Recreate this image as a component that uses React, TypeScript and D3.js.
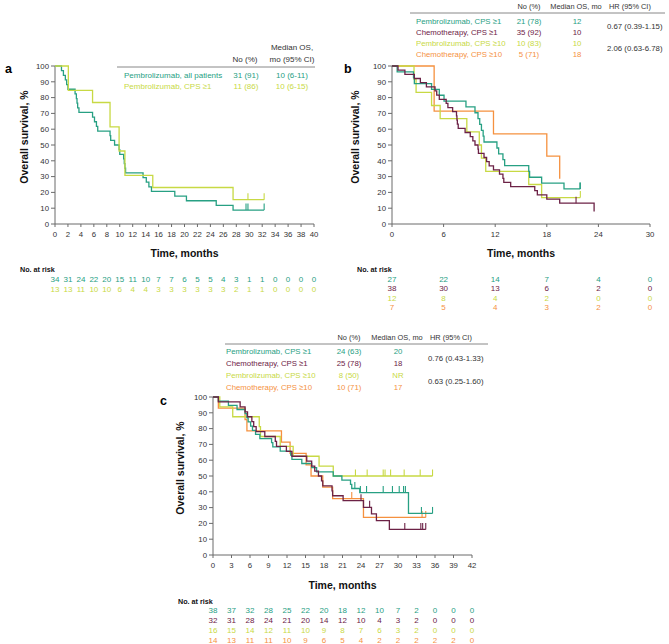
import React from 'react';
import * as d3 from 'd3';

type Pt = [number, number];

const FONT = '"Liberation Sans", Arial, Helvetica, sans-serif';
const TEAL = '#27a083';
const MAROON = '#6c2246';
const LIME = '#c8d944';
const ORANGE = '#f5913f';
const AXIS = '#6b6b6b';
const TXT = '#333333';

// ---------- Panel a ----------
const aXTicks = [0, 2, 4, 6, 8, 10, 12, 14, 16, 18, 20, 22, 24, 26, 28, 30, 32, 34, 36, 38, 40];
const aAllSteps: Pt[] = [[0, 100], [1.0, 97.1], [1.3, 94.1], [1.6, 91.2], [1.8, 88.2], [2.0, 85.3], [3.1, 82.4], [3.3, 79.4], [3.4, 76.5], [3.5, 73.5], [3.7, 70.6], [5.8, 67.6], [6.1, 64.7], [6.4, 61.8], [6.6, 58.8], [8.5, 55.9], [8.6, 52.9], [9.2, 50.0], [9.9, 47.1], [10.0, 44.1], [10.6, 41.2], [10.7, 38.2], [10.8, 35.3], [10.9, 32.4], [13.6, 29.4], [14.1, 26.5], [14.5, 23.5], [14.9, 20.6], [18.5, 17.6], [20.3, 14.7], [24.9, 11.8], [27.5, 8.8]];
const aAllEnd = 32.3;
const aAllCensor = [29.5, 29.8, 32.3];
const aCpsSteps: Pt[] = [[0, 100], [2.06, 84.6], [5.8, 76.9], [8.5, 61.5], [9.9, 46.2], [10.8, 30.8], [15.1, 23.1], [27.5, 15.4]];
const aCpsEnd = 32.3;
const aCpsCensor = [29.8, 32.3];
const aRiskAll = [34, 31, 24, 22, 20, 15, 11, 10, 7, 7, 6, 5, 5, 4, 3, 1, 1, 0, 0, 0, 0];
const aRiskCps = [13, 13, 11, 10, 10, 6, 4, 4, 3, 3, 3, 3, 3, 3, 2, 1, 1, 0, 0, 0, 0];
const aNames = ['Pembrolizumab, all patients', 'Pembrolizumab, CPS \u22651'];
const aNo = ['31 (91)', '11 (86)'];
const aMedian = ['10 (6-11)', '10 (6-15)'];

// ---------- Panel b ----------
const bXTicks = [0, 6, 12, 18, 24, 30];
const bPembro1Steps: Pt[] = [[0, 100], [0.6, 96.3], [2.5, 92.6], [2.6, 88.9], [4.6, 85.2], [5.5, 81.5], [6.05, 77.8], [8.6, 74.1], [9.65, 70.4], [10.0, 66.7], [10.2, 63.0], [10.4, 59.3], [10.6, 55.6], [10.7, 51.9], [12.2, 48.1], [12.4, 44.4], [12.9, 40.7], [13.1, 37.0], [15.9, 33.3], [16.0, 29.6], [17.4, 25.9], [20.0, 22.2]];
const bPembro1End = 21.9;
const bPembro1Censor = [21.85, 21.9];
const bChemo1Steps: Pt[] = [[0, 100], [0.7, 97.4], [1.5, 94.7], [2.6, 92.1], [3.3, 89.5], [4.0, 86.8], [5.0, 84.2], [5.2, 81.6], [5.5, 78.9], [6.3, 76.3], [6.5, 73.7], [7.05, 71.1], [7.5, 68.4], [7.55, 65.8], [7.6, 63.2], [7.7, 60.5], [8.5, 57.9], [9.1, 55.3], [9.4, 52.6], [9.65, 50.0], [10.0, 47.4], [10.05, 44.7], [10.7, 42.1], [11.0, 39.5], [11.3, 36.8], [11.8, 34.2], [12.5, 31.6], [12.9, 28.9], [13.0, 26.3], [13.8, 23.7], [16.6, 21.1], [16.9, 18.4], [18.0, 15.8], [19.5, 13.2], [23.5, 7.9]];
const bChemo1End = 23.5;
const bChemo1Censor = [21.4];
const bPembro10Steps: Pt[] = [[0, 100], [2.56, 91.7], [2.8, 83.3], [4.6, 75.0], [5.6, 66.7], [8.7, 58.3], [10.15, 50.0], [10.4, 41.7], [10.9, 33.3], [15.9, 25.0], [17.4, 16.7]];
const bPembro10End = 21.9;
const bPembro10Censor = [21.9];
const bChemo10Steps: Pt[] = [[0, 100], [4.9, 71.4], [11.8, 57.1], [18.0, 42.9], [19.5, 28.6]];
const bChemo10End = 19.5;
const bChemo10Censor: number[] = [];
const bRiskPembro1 = [27, 22, 14, 7, 4, 0];
const bRiskChemo1 = [38, 30, 13, 6, 2, 0];
const bRiskPembro10 = [12, 8, 4, 2, 0, 0];
const bRiskChemo10 = [7, 5, 4, 3, 2, 0];
const bNames = ['Pembrolizumab, CPS \u22651', 'Chemotherapy, CPS \u22651', 'Pembrolizumab, CPS \u226510', 'Chemotherapy, CPS \u226510'];
const bNo = ['21 (78)', '35 (92)', '10 (83)', '5 (71)'];
const bMedian = ['12', '10', '10', '18'];
const bHR = ['0.67 (0.39-1.15)', '2.06 (0.63-6.78)'];

// ---------- Panel c ----------
const cXTicks = [0, 3, 6, 9, 12, 15, 18, 21, 24, 27, 30, 33, 36, 39, 42];
const cPembro1Steps: Pt[] = [[0, 100], [0.87, 97.4], [2.5, 94.7], [3.9, 92.1], [5.2, 89.5], [5.5, 86.8], [5.7, 84.2], [6.1, 81.6], [6.4, 78.9], [6.9, 76.3], [7.6, 73.7], [9.5, 71.1], [9.7, 68.4], [10.9, 65.8], [12.6, 63.2], [12.8, 60.5], [14.4, 57.9], [16.0, 55.3], [16.8, 52.6], [19.5, 50.0], [20.9, 47.4], [22.3, 44.7], [22.5, 42.1], [23.8, 39.5], [31.7, 26.3]];
const cPembro1End = 35.6;
const cPembro1Censor = [23.0, 23.9, 24.9, 27.6, 29.1, 30.2, 30.9, 31.2, 33.8, 35.6];
const cChemo1Steps: Pt[] = [[0, 100], [0.87, 96.9], [4.4, 93.8], [5.2, 90.6], [5.6, 87.5], [6.3, 84.4], [6.6, 81.3], [7.0, 78.1], [8.4, 75.0], [10.1, 71.9], [10.3, 68.8], [11.9, 65.6], [12.8, 62.5], [15.2, 59.4], [16.0, 56.3], [16.5, 53.1], [17.1, 50.0], [17.6, 46.9], [17.8, 43.8], [19.3, 40.6], [19.4, 37.5], [21.1, 34.4], [24.4, 30.2], [25.7, 26.0], [26.5, 21.7], [28.6, 16.2]];
const cChemo1End = 34.5;
const cChemo1Censor = [24.0, 25.4, 31.1, 33.7, 34.0, 34.5];
const cPembro10Steps: Pt[] = [[0, 100], [1.1, 93.75], [3.2, 87.5], [7.5, 81.25], [7.7, 75.0], [10.9, 68.75], [13.0, 62.5], [17.2, 56.25], [19.5, 50.0]];
const cPembro10End = 35.6;
const cPembro10Censor = [23.1, 25.0, 27.6, 27.9, 28.8, 31.0, 33.6, 35.6];
const cChemo10Steps: Pt[] = [[0, 100], [0.87, 92.9], [5.2, 85.7], [5.5, 78.6], [11.1, 71.4], [12.5, 64.3], [15.1, 57.1], [15.9, 50.0], [17.8, 42.9], [19.4, 35.7], [24.4, 23.8]];
const cChemo10End = 34.5;
const cChemo10Censor = [22.5, 33.9, 34.5];
const cRiskPembro1 = [38, 37, 32, 28, 25, 22, 20, 18, 12, 10, 7, 2, 0, 0, 0];
const cRiskChemo1 = [32, 31, 28, 24, 21, 20, 14, 12, 10, 4, 3, 2, 0, 0, 0];
const cRiskPembro10 = [16, 15, 14, 12, 11, 10, 9, 8, 7, 6, 3, 2, 0, 0, 0];
const cRiskChemo10 = [14, 13, 11, 11, 10, 9, 6, 5, 4, 2, 2, 2, 2, 2, 0];
const cNames = ['Pembrolizumab, CPS \u22651', 'Chemotherapy, CPS \u22651', 'Pembrolizumab, CPS \u226510', 'Chemotherapy, CPS \u226510'];
const cNo = ['24 (63)', '25 (78)', '8 (50)', '10 (71)'];
const cMedian = ['20', '18', 'NR', '17'];
const cHR = ['0.76 (0.43-1.33)', '0.63 (0.25-1.60)'];

const yTicks = [0, 10, 20, 30, 40, 50, 60, 70, 80, 90, 100];

interface Series {
  color: string;
  steps: Pt[];
  end: number;
  censor: number[];
  risk: number[];
}

interface PanelCfg {
  letter: string;
  letterX: number;
  letterY: number;
  x0: number;
  x1: number;
  yTop: number;
  yBot: number;
  xMax: number;
  xTicks: number[];
  yTitleX: number;
  xTitleY: number;
  riskLabelX: number;
  riskLabelY: number;
  riskRows: number[];
  series: Series[];
}

function survAt(steps: Pt[], t: number) {
  let s = steps[0][1];
  for (const p of steps) if (p[0] <= t) s = p[1];
  return s;
}

function Panel({ cfg }: { cfg: PanelCfg }) {
  const x = d3.scaleLinear().domain([0, cfg.xMax]).range([cfg.x0, cfg.x1]);
  const y = d3.scaleLinear().domain([0, 100]).range([cfg.yBot, cfg.yTop]);
  const line = d3
    .line<Pt>()
    .x((d) => x(d[0]))
    .y((d) => y(d[1]))
    .curve(d3.curveStepAfter);
  const midY = (cfg.yTop + cfg.yBot) / 2 - 8;
  return (
    <g fontFamily={FONT}>
      <text x={cfg.letterX} y={cfg.letterY} fontSize={12.5} fontWeight="bold" fill="#000">
        {cfg.letter}
      </text>
      <line x1={cfg.x0} x2={cfg.x0} y1={cfg.yTop} y2={cfg.yBot} stroke={AXIS} strokeWidth={1} />
      {yTicks.map((t) => (
        <g key={'y' + t}>
          <line x1={cfg.x0 - 4} x2={cfg.x0} y1={y(t)} y2={y(t)} stroke={AXIS} strokeWidth={1} />
          <text x={cfg.x0 - 6} y={y(t) + 2.7} fontSize={7.8} textAnchor="end" fill={TXT}>
            {t}
          </text>
        </g>
      ))}
      <line x1={cfg.x0} x2={cfg.x1} y1={cfg.yBot} y2={cfg.yBot} stroke={AXIS} strokeWidth={1} />
      {cfg.xTicks.map((t) => (
        <g key={'x' + t}>
          <line x1={x(t)} x2={x(t)} y1={cfg.yBot} y2={cfg.yBot + 3} stroke={AXIS} strokeWidth={1} />
          <text x={x(t)} y={cfg.yBot + 12.5} fontSize={7.8} textAnchor="middle" fill={TXT}>
            {t}
          </text>
        </g>
      ))}
      <text
        transform={`translate(${cfg.yTitleX},${midY}) rotate(-90)`}
        fontSize={10.5}
        fontWeight="bold"
        textAnchor="middle"
        dominantBaseline="middle"
        fill="#111"
      >
        Overall survival, %
      </text>
      <text x={(cfg.x0 + cfg.x1) / 2} y={cfg.xTitleY + 4} fontSize={10.5} fontWeight="bold" textAnchor="middle" fill="#111">
        Time, months
      </text>
      {cfg.series.map((s, i) => {
        const last = s.steps[s.steps.length - 1][1];
        const pts: Pt[] = [...s.steps, [s.end, last]];
        return (
          <g key={'s' + i}>
            <path d={line(pts) || ''} fill="none" stroke={s.color} strokeWidth={1.3} />
            {s.censor.map((c, j) => {
              const v = survAt(s.steps, c);
              return (
                <line key={j} x1={x(c)} x2={x(c)} y1={y(v)} y2={y(v) - 6.5} stroke={s.color} strokeWidth={1.1} />
              );
            })}
          </g>
        );
      })}
      <text x={cfg.riskLabelX} y={cfg.riskLabelY + 2.5} fontSize={7.2} fontWeight="bold" fill="#111">
        No. at risk
      </text>
      {cfg.series.map((s, i) =>
        s.risk.map((r, j) => (
          <text
            key={`r${i}-${j}`}
            x={x(cfg.xTicks[j])}
            y={cfg.riskRows[i] + 2.8}
            fontSize={8}
            textAnchor="middle"
            fill={s.color}
          >
            {r}
          </text>
        ))
      )}
    </g>
  );
}

const panelA: PanelCfg = {
  letter: 'a', letterX: 5, letterY: 73, x0: 55, x1: 314, yTop: 66, yBot: 224, xMax: 40, xTicks: aXTicks,
  yTitleX: 25, xTitleY: 253, riskLabelX: 20, riskLabelY: 269, riskRows: [279, 289],
  series: [
    { color: TEAL, steps: aAllSteps, end: aAllEnd, censor: aAllCensor, risk: aRiskAll },
    { color: LIME, steps: aCpsSteps, end: aCpsEnd, censor: aCpsCensor, risk: aRiskCps },
  ],
};

const panelB: PanelCfg = {
  letter: 'b', letterX: 344, letterY: 73, x0: 392, x1: 650, yTop: 66, yBot: 224, xMax: 30, xTicks: bXTicks,
  yTitleX: 356, xTitleY: 253, riskLabelX: 357, riskLabelY: 269, riskRows: [307.2, 297.8, 279, 288.4],
  series: [
    { color: ORANGE, steps: bChemo10Steps, end: bChemo10End, censor: bChemo10Censor, risk: bRiskChemo10 },
    { color: LIME, steps: bPembro10Steps, end: bPembro10End, censor: bPembro10Censor, risk: bRiskPembro10 },
    { color: TEAL, steps: bPembro1Steps, end: bPembro1End, censor: bPembro1Censor, risk: bRiskPembro1 },
    { color: MAROON, steps: bChemo1Steps, end: bChemo1End, censor: bChemo1Censor, risk: bRiskChemo1 },
  ],
};

const panelC: PanelCfg = {
  letter: 'c', letterX: 160, letterY: 405, x0: 213, x1: 472, yTop: 397, yBot: 555, xMax: 42, xTicks: cXTicks,
  yTitleX: 181, xTitleY: 585, riskLabelX: 178, riskLabelY: 601, riskRows: [639.7, 630.3, 610.3, 620.3],
  series: [
    { color: ORANGE, steps: cChemo10Steps, end: cChemo10End, censor: cChemo10Censor, risk: cRiskChemo10 },
    { color: LIME, steps: cPembro10Steps, end: cPembro10End, censor: cPembro10Censor, risk: cRiskPembro10 },
    { color: TEAL, steps: cPembro1Steps, end: cPembro1End, censor: cPembro1Censor, risk: cRiskPembro1 },
    { color: MAROON, steps: cChemo1Steps, end: cChemo1End, censor: cChemo1Censor, risk: cRiskChemo1 },
  ],
};

function LegendA() {
  const colors = [TEAL, LIME];
  const rows = [75, 86.5];
  return (
    <g fontFamily={FONT} fontSize={8}>
      <text x={292} y={49.5} textAnchor="middle" fill={TXT}>Median OS,</text>
      <text x={245} y={61.5} textAnchor="middle" fill={TXT}>No (%)</text>
      <text x={292} y={61.5} textAnchor="middle" fill={TXT}>mo (95% CI)</text>
      <line x1={117} x2={315} y1={67} y2={67} stroke="#888" strokeWidth={1} />
      {aNames.map((n, i) => (
        <g key={i} fill={colors[i]}>
          <text x={124} y={rows[i] + 2.8}>{n}</text>
          <text x={246} y={rows[i] + 2.8} textAnchor="middle">{aNo[i]}</text>
          <text x={292} y={rows[i] + 2.8} textAnchor="middle">{aMedian[i]}</text>
        </g>
      ))}
    </g>
  );
}

function Legend4({ names, no, med, hr, nameX, noX, medX, hrX, headY, lineY, lineX0, lineX1, rows, hrY }: any) {
  const colors = [TEAL, MAROON, LIME, ORANGE];
  return (
    <g fontFamily={FONT} fontSize={7.8}>
      <text x={noX} y={headY + 2.6} fontSize={7.4} textAnchor="middle" fill={TXT}>No (%)</text>
      <text x={medX - 1} y={headY + 2.6} fontSize={7.4} textAnchor="middle" fill={TXT}>Median OS, mo</text>
      <text x={hrX + 1} y={headY + 2.6} fontSize={7.4} fill={TXT}>HR (95% CI)</text>
      <line x1={lineX0} x2={lineX1} y1={lineY} y2={lineY} stroke="#888" strokeWidth={1} />
      {names.map((n: string, i: number) => (
        <g key={i} fill={colors[i]}>
          <text x={nameX} y={rows[i] + 2.7}>{n}</text>
          <text x={noX} y={rows[i] + 2.7} textAnchor="middle">{no[i]}</text>
          <text x={medX} y={rows[i] + 2.7} textAnchor="middle">{med[i]}</text>
        </g>
      ))}
      {hr.map((h: string, i: number) => (
        <text key={'h' + i} x={hrX - 1} y={hrY[i] + 2.7} fill={TXT}>{h}</text>
      ))}
    </g>
  );
}

export default function App() {
  return (
    <svg
      width={669}
      height={644}
      viewBox="0 0 669 644"
      style={{ position: 'absolute', left: 0, top: 0, background: '#fff' }}
    >
      <rect x={0} y={0} width={669} height={644} fill="#fff" />
      <Panel cfg={panelA} />
      <LegendA />
      <Panel cfg={panelB} />
      <Legend4
        names={bNames} no={bNo} med={bMedian} hr={bHR}
        nameX={416} noX={529} medX={577} hrX={608}
        headY={6} lineY={13} lineX0={410} lineX1={665}
        rows={[21, 32, 43, 54]} hrY={[26.5, 48]}
      />
      <Panel cfg={panelC} />
      <Legend4
        names={cNames} no={cNo} med={cMedian} hr={cHR}
        nameX={226} noX={349} medX={398} hrX={429}
        headY={337} lineY={344} lineX0={225} lineX1={488}
        rows={[351, 363, 375, 387]} hrY={[358, 381]}
      />
    </svg>
  );
}
